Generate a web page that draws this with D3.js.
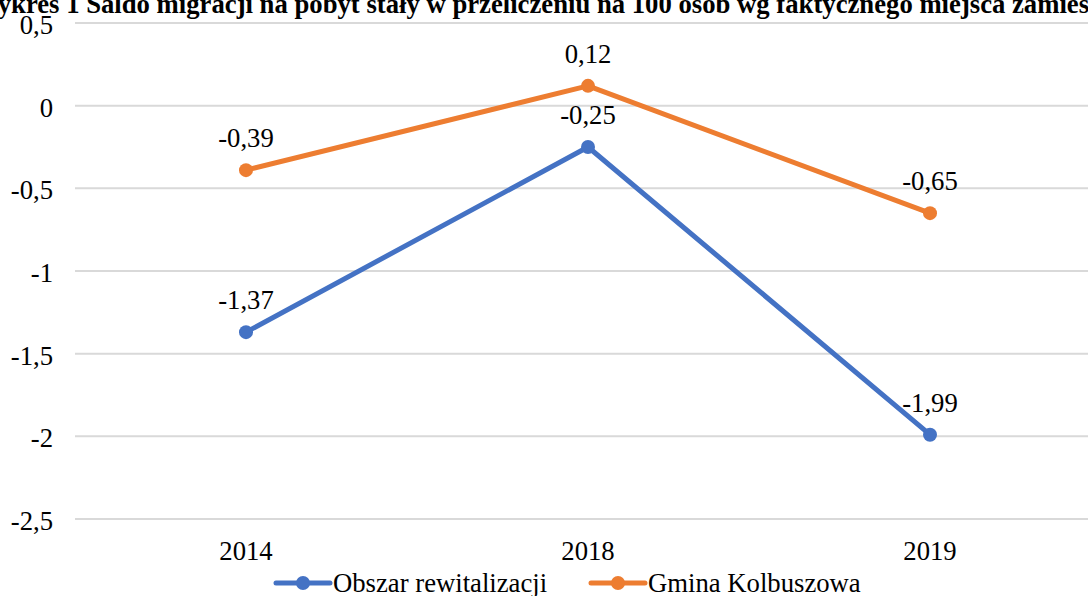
<!doctype html>
<html>
<head>
<meta charset="UTF-8">
<title>Wykres 1</title>
<script src="https://d3js.org/d3.v7.min.js"></script>
<style>
  body { margin: 0; background: #fff; }
</style>
</head>
<body>
<script>
var years = ["2014", "2018", "2019"];
var obszar = [-1.37, -0.25, -1.99];
var gmina = [-0.39, 0.12, -0.65];
var yTicks = [0.5, 0, -0.5, -1, -1.5, -2, -2.5];
var seriesNames = ["Obszar rewitalizacji", "Gmina Kolbuszowa"];
var colors = ["#4472C4", "#ED7D31"];
var title = "Wykres 1 Saldo migracji na pobyt stały w przeliczeniu na 100 osób wg faktycznego miejsca zamieszkania";

var w = 1088, h = 596;
var padL = 75, padR = 1101, padT = 23, padB = 519;
var serif = "font-family: 'Liberation Serif', 'Times New Roman', serif; fill: #000;";
var fs = 26.7;

var fmt = function(v){ return String(v).replace(".", ","); };

var svg = d3.select("body").append("svg")
    .attr("width", w).attr("height", h);

var x = d3.scaleBand().domain(years).range([padL, padR]);
var y = d3.scaleLinear().domain([-2.5, 0.5]).range([padB, padT]);

// title (clipped at top, as in the original)
svg.append("text")
    .attr("x", -28).attr("y", 13)
    .attr("style", serif + " font-size: 26.7px; font-weight: bold;")
    .text(title);

// grid -----------------------
svg.append("g").selectAll("line")
    .data(yTicks).enter().append("line")
    .attr("x1", padL).attr("x2", padR)
    .attr("y1", function(d){ return y(d); })
    .attr("y2", function(d){ return y(d); })
    .attr("stroke", "#d9d9d9").attr("stroke-width", 2);

// y axis labels
var yAxis = d3.axisLeft(y).tickValues(yTicks).tickSize(0).tickPadding(0)
    .tickFormat(fmt);
svg.append("g").attr("transform", "translate(53,2)").call(yAxis)
    .call(function(g){ g.select(".domain").remove(); })
    .selectAll("text").attr("style", serif + " font-size: " + fs + "px;");

// x axis labels
var xAxis = d3.axisBottom(x).tickSize(0).tickPadding(0);
svg.append("g").attr("transform", "translate(0," + (padB + 22) + ")").call(xAxis)
    .call(function(g){ g.select(".domain").remove(); })
    .selectAll("text").attr("style", serif + " font-size: " + fs + "px;");

// series -----------------------
var series = [obszar, gmina];
var cx = function(d, i){ return x(years[i]) + x.bandwidth() / 2; };
var line = d3.line().x(cx).y(function(d){ return y(d); });

series.forEach(function(s, k){
    var g = svg.append("g");
    g.append("path").datum(s)
        .attr("d", line)
        .attr("fill", "none")
        .attr("stroke", colors[k]).attr("stroke-width", 5)
        .attr("stroke-linejoin", "round").attr("stroke-linecap", "round");
    g.selectAll("circle").data(s).enter().append("circle")
        .attr("cx", cx).attr("cy", function(d){ return y(d); })
        .attr("r", 7).attr("fill", colors[k]);
    g.selectAll("text").data(s).enter().append("text")
        .attr("x", cx).attr("y", function(d){ return y(d) - 23; })
        .attr("text-anchor", "middle")
        .attr("style", serif + " font-size: " + fs + "px;")
        .text(fmt);
});

// legend -----------------------
var legendX = [276, 591];
var leg = svg.append("g").selectAll("g").data(seriesNames).enter().append("g")
    .attr("transform", function(d, i){ return "translate(" + legendX[i] + ",583)"; });
leg.append("line").attr("x1", 0).attr("x2", 54)
    .attr("stroke", function(d, i){ return colors[i]; })
    .attr("stroke-width", 5).attr("stroke-linecap", "round");
leg.append("circle").attr("cx", 27).attr("r", 7)
    .attr("fill", function(d, i){ return colors[i]; });
leg.append("text").attr("x", 57).attr("y", 9)
    .attr("style", serif + " font-size: " + fs + "px;")
    .text(function(d){ return d; });
</script>
</body>
</html>
